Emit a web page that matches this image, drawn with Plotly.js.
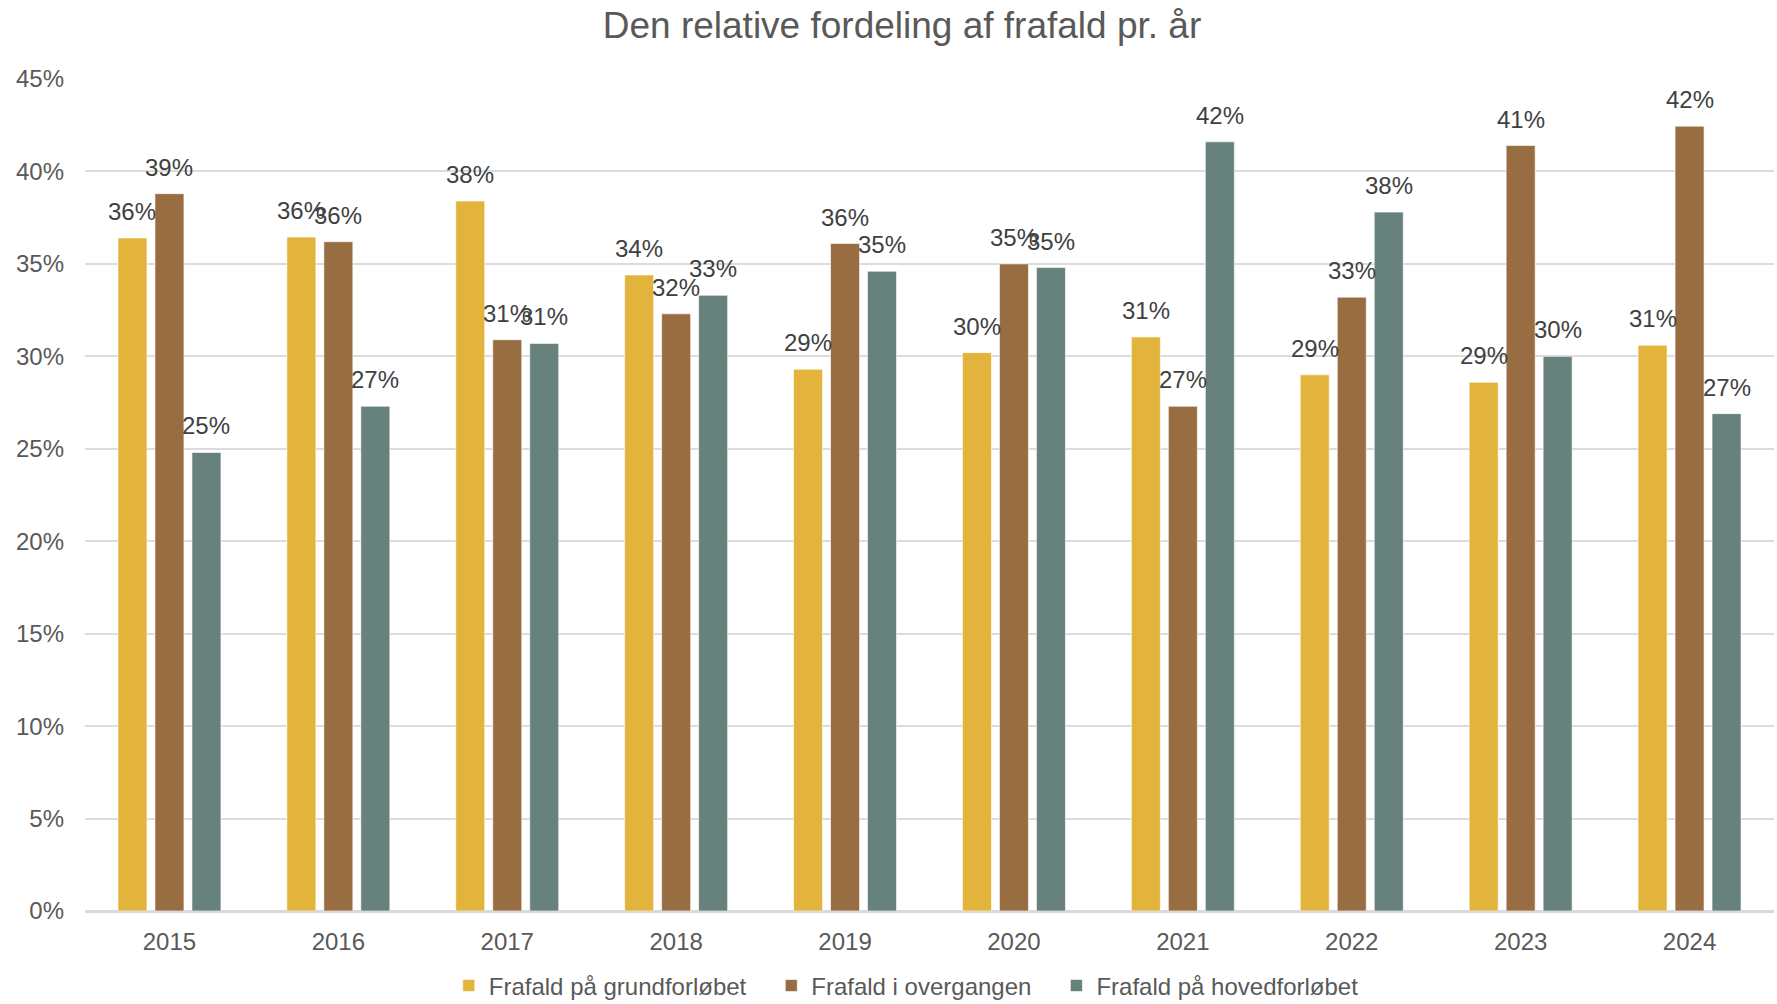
<!DOCTYPE html>
<html>
<head>
<meta charset="utf-8">
<script src="https://cdn.plot.ly/plotly-3.0.1.min.js"></script>
<style>
  html, body { margin: 0; padding: 0; background: #fff; }
  #myGraph { width: 1777px; height: 1004px; }
</style>
</head>
<body>
<div id="myGraph"></div>
<script>
// data (percent)
let years = ['2015', '2016', '2017', '2018', '2019', '2020', '2021', '2022', '2023', '2024'];
let seriesNames = ['Frafald på grundforløbet', 'Frafald i overgangen', 'Frafald på hovedforløbet'];
let grundforloeb = [36.4, 36.45, 38.4, 34.4, 29.3, 30.2, 31.05, 29.0, 28.6, 30.6];
let overgangen   = [38.8, 36.2, 30.9, 32.3, 36.1, 35.0, 27.3, 33.2, 41.4, 42.45];
let hovedforloeb = [24.8, 27.3, 30.7, 33.3, 34.6, 34.8, 41.6, 37.8, 30.0, 26.9];
let colors = ['#E2B43C', '#986D42', '#67817C'];

let fontFam = '"Liberation Sans", Arial, sans-serif';
let allValues = [grundforloeb, overgangen, hovedforloeb];

// bars
let data = [];
allValues.forEach(function (vals, i) {
    data.push({
        type: 'bar',
        // a few no-break spaces to open up the legend like the original
        name: seriesNames[i] + (i < 2 ? '\u00A0\u00A0\u00A0' : ''),
        x: years,
        y: vals,
        marker: { color: colors[i], line: { color: 'rgba(255,255,255,0.6)', width: 1 } },
        hoverinfo: 'skip'
    });
});

// data labels over each bar (x = category index, shift = bar slot width)
let slot = 37;
let annotations = [];
allValues.forEach(function (vals, i) {
    vals.forEach(function (v, j) {
        annotations.push({
            x: j,
            y: v,
            xref: 'x',
            yref: 'y',
            text: Math.round(v) + '%',
            showarrow: false,
            xshift: (i - 1) * slot,
            yshift: 11,
            yanchor: 'bottom',
            font: { family: fontFam, size: 24, color: '#404040' }
        });
    });
});

let layout = {
    width: 1777,
    height: 1004,
    margin: { l: 85, r: 3, t: 79, b: 92.5 },
    paper_bgcolor: '#ffffff',
    plot_bgcolor: '#ffffff',
    font: { family: fontFam, size: 24, color: '#595959' },
    title: {
        text: 'Den relative fordeling af frafald pr. år',
        font: { family: fontFam, size: 37, color: '#595959' },
        xref: 'container',
        x: 0.5076,
        xanchor: 'center',
        yref: 'container',
        y: 0.975,
        yanchor: 'middle'
    },
    barmode: 'group',
    bargap: 0.343,
    bargroupgap: 0.216,
    xaxis: {
        type: 'category',
        range: [-0.5, 9.5],
        tickfont: { family: fontFam, size: 24, color: '#595959' },
        showgrid: false,
        showline: true,
        linecolor: '#D9D9D9',
        linewidth: 2,
        ticks: '',
        ticklabelstandoff: 8
    },
    yaxis: {
        range: [0, 45],
        dtick: 5,
        ticksuffix: '%',
        tickfont: { family: fontFam, size: 24, color: '#595959' },
        gridcolor: '#DCDCDC',
        gridwidth: 2,
        zeroline: true,
        zerolinecolor: '#D9D9D9',
        zerolinewidth: 2,
        showline: false,
        ticks: '',
        ticklabelstandoff: 20
    },
    legend: {
        orientation: 'h',
        xref: 'container',
        x: 0.51,
        xanchor: 'center',
        yref: 'container',
        y: 0.018,
        yanchor: 'middle',
        font: { family: fontFam, size: 24, color: '#595959' },
        itemwidth: 30,
        traceorder: 'normal'
    },
    annotations: annotations
};

Plotly.newPlot('myGraph', data, layout, { displayModeBar: false });
</script>
</body>
</html>
